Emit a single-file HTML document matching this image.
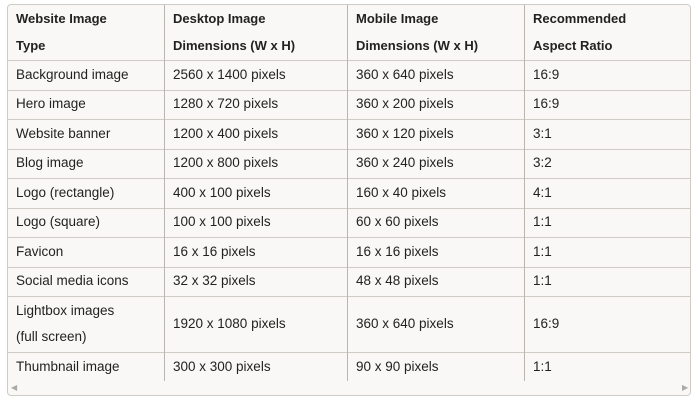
<!DOCTYPE html>
<html><head><style>
body{margin:0;width:699px;height:400px;background:#fff;font-family:"Liberation Sans",sans-serif;color:#222;overflow:hidden;position:relative}
.box{position:absolute;left:7px;top:4px;width:684px;height:392px;border:1px solid #cfccc6;border-radius:4px;background:#f9f8f6;box-sizing:border-box}
.h{position:absolute;left:8px;width:683px;height:1px;background:#cfccc6}
.v{position:absolute;top:5px;width:1px;height:376px;background:#b9b6b0}
.t{position:absolute;font-size:13.5px;white-space:nowrap}
.b{font-weight:bold;font-size:13px}
</style></head><body>
<div class="box"></div>
<div class="h" style="top:60px"></div>
<div class="h" style="top:90px"></div>
<div class="h" style="top:119px"></div>
<div class="h" style="top:149px"></div>
<div class="h" style="top:178px"></div>
<div class="h" style="top:208px"></div>
<div class="h" style="top:237px"></div>
<div class="h" style="top:267px"></div>
<div class="h" style="top:296px"></div>
<div class="h" style="top:352px"></div>
<div class="v" style="left:164px"></div>
<div class="v" style="left:347px"></div>
<div class="v" style="left:524px"></div>
<div class="t b" style="left:16px;top:11px">Website Image</div>
<div class="t b" style="left:16px;top:38px">Type</div>
<div class="t b" style="left:173px;top:11px">Desktop Image</div>
<div class="t b" style="left:173px;top:38px">Dimensions (W x H)</div>
<div class="t b" style="left:356px;top:11px">Mobile Image</div>
<div class="t b" style="left:356px;top:38px">Dimensions (W x H)</div>
<div class="t b" style="left:533px;top:11px">Recommended</div>
<div class="t b" style="left:533px;top:38px">Aspect Ratio</div>

<div class="t" style="left:16px;top:67px">Background image</div><div class="t" style="left:173px;top:67px">2560 x 1400 pixels</div><div class="t" style="left:356px;top:67px">360 x 640 pixels</div><div class="t" style="left:533px;top:67px">16:9</div>
<div class="t" style="left:16px;top:96px">Hero image</div><div class="t" style="left:173px;top:96px">1280 x 720 pixels</div><div class="t" style="left:356px;top:96px">360 x 200 pixels</div><div class="t" style="left:533px;top:96px">16:9</div>
<div class="t" style="left:16px;top:126px">Website banner</div><div class="t" style="left:173px;top:126px">1200 x 400 pixels</div><div class="t" style="left:356px;top:126px">360 x 120 pixels</div><div class="t" style="left:533px;top:126px">3:1</div>
<div class="t" style="left:16px;top:155px">Blog image</div><div class="t" style="left:173px;top:155px">1200 x 800 pixels</div><div class="t" style="left:356px;top:155px">360 x 240 pixels</div><div class="t" style="left:533px;top:155px">3:2</div>
<div class="t" style="left:16px;top:185px">Logo (rectangle)</div><div class="t" style="left:173px;top:185px">400 x 100 pixels</div><div class="t" style="left:356px;top:185px">160 x 40 pixels</div><div class="t" style="left:533px;top:185px">4:1</div>
<div class="t" style="left:16px;top:214px">Logo (square)</div><div class="t" style="left:173px;top:214px">100 x 100 pixels</div><div class="t" style="left:356px;top:214px">60 x 60 pixels</div><div class="t" style="left:533px;top:214px">1:1</div>
<div class="t" style="left:16px;top:244px">Favicon</div><div class="t" style="left:173px;top:244px">16 x 16 pixels</div><div class="t" style="left:356px;top:244px">16 x 16 pixels</div><div class="t" style="left:533px;top:244px">1:1</div>
<div class="t" style="left:16px;top:273px">Social media icons</div><div class="t" style="left:173px;top:273px">32 x 32 pixels</div><div class="t" style="left:356px;top:273px">48 x 48 pixels</div><div class="t" style="left:533px;top:273px">1:1</div>
<div class="t" style="left:16px;top:303px">Lightbox images</div><div class="t" style="left:16px;top:329px">(full screen)</div><div class="t" style="left:173px;top:316px">1920 x 1080 pixels</div><div class="t" style="left:356px;top:316px">360 x 640 pixels</div><div class="t" style="left:533px;top:316px">16:9</div>
<div class="t" style="left:16px;top:359px">Thumbnail image</div><div class="t" style="left:173px;top:359px">300 x 300 pixels</div><div class="t" style="left:356px;top:359px">90 x 90 pixels</div><div class="t" style="left:533px;top:359px">1:1</div>
<div class="t" style="left:11px;top:383px;font-size:8px;color:#aaa">◀</div>
<div class="t" style="left:682px;top:383px;font-size:8px;color:#aaa">▶</div>
</body></html>
